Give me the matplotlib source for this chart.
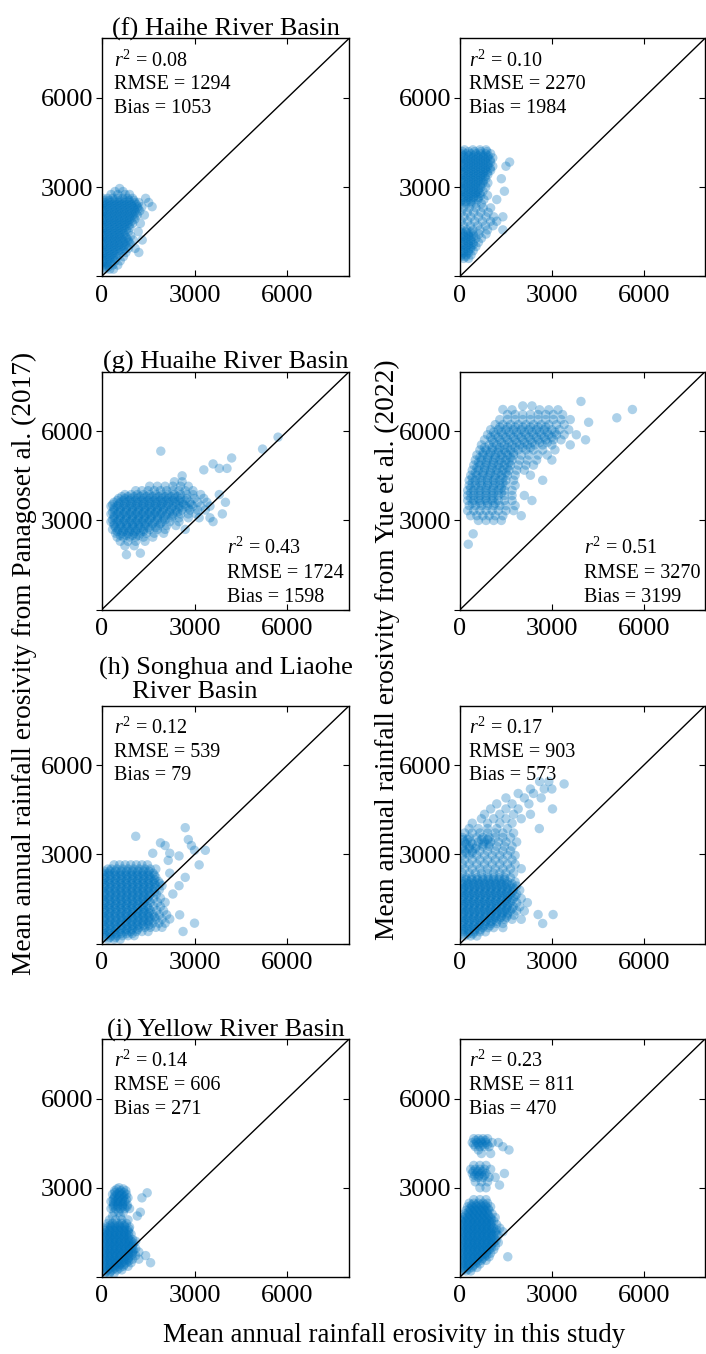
import matplotlib
matplotlib.use("Agg")
import matplotlib.pyplot as plt

plt.rcParams['font.family'] = ['Liberation Serif', 'DejaVu Serif']
plt.rcParams['mathtext.fontset'] = 'custom'
plt.rcParams['mathtext.rm'] = 'Liberation Serif'
plt.rcParams['mathtext.it'] = 'Liberation Serif:italic'

# ---------------- data: rows of (y, [x values]) ----------------
haihe_panagos = [
    (2950, [580]), (2850, [430, 690]), (2750, [300, 520, 760, 900]),
    (2620, [40, 200, 360, 520, 680, 840, 1000, 1420]),
    (2480, [110, 270, 430, 590, 750, 910, 1070, 1200, 1520]),
    (2340, [40, 200, 360, 520, 680, 840, 1000, 1160, 1300, 1630]),
    (2200, [110, 270, 430, 590, 750, 910, 1070, 1230]),
    (2060, [40, 200, 360, 520, 680, 840, 1000, 1150, 1380]),
    (1920, [110, 270, 430, 590, 750, 910, 1070]),
    (1780, [40, 200, 360, 520, 680, 840, 1000, 1250]),
    (1640, [110, 270, 430, 590, 750, 910]),
    (1500, [40, 200, 360, 520, 680, 860, 1180]),
    (1360, [110, 270, 430, 590, 760, 940]),
    (1220, [40, 200, 360, 520, 680, 850, 1020, 1310]),
    (1080, [110, 270, 430, 590, 760, 930]),
    (940, [40, 200, 360, 520, 690, 860, 1080]),
    (800, [110, 270, 430, 600, 780, 1200]),
    (660, [40, 200, 360, 520, 700]),
    (520, [110, 270, 430, 600]),
    (380, [40, 200, 360, 520]),
    (240, [110, 260, 380]),
]
haihe_panagos_core = [
    (2550, [80, 240, 400, 560, 720, 880, 1040]),
    (2410, [20, 160, 320, 480, 640, 800, 960, 1120]),
    (2270, [80, 240, 400, 560, 720, 880, 1040, 1180]),
    (2130, [20, 160, 320, 480, 640, 800, 960, 1100]),
    (1990, [80, 240, 400, 560, 720, 880, 1040]),
    (1850, [20, 160, 320, 480, 640, 800, 960]),
    (1710, [80, 240, 400, 560, 720, 880]),
    (1570, [20, 160, 320, 480, 640, 800]),
    (1430, [80, 240, 400, 560, 720]),
    (1290, [20, 160, 320, 480, 640, 800]),
    (1150, [80, 240, 400, 560, 720, 880]),
    (1010, [20, 160, 320, 480, 640, 800]),
    (870, [80, 240, 400, 560, 720]),
    (730, [20, 160, 320, 480]),
    (590, [80, 240, 400]),
    (450, [20, 160, 320]),
    (310, [80, 200]),
]
haihe_yue = [
    (4250, [150, 420, 650, 850]),
    (4120, [40, 200, 360, 520, 680, 840, 1000]),
    (3980, [110, 270, 430, 590, 750, 910, 1070]),
    (3840, [40, 200, 360, 520, 680, 840, 1000, 1620]),
    (3700, [110, 270, 430, 590, 750, 910, 1070, 1500]),
    (3560, [40, 200, 360, 520, 680, 840, 1000]),
    (3420, [110, 270, 430, 590, 750, 910]),
    (3280, [40, 200, 360, 520, 680, 840, 1350]),
    (3140, [110, 270, 430, 590, 750, 910]),
    (3000, [40, 200, 360, 520, 680, 840]),
    (2860, [110, 270, 430, 590, 750, 1450]),
    (2720, [40, 200, 360, 520, 680, 900]),
    (2580, [110, 270, 430, 590, 780, 1200]),
    (2440, [40, 200, 360, 520, 700]),
    (2300, [110, 300, 520, 760, 1000]),
    (2150, [40, 240, 450, 680, 920]),
    (2000, [130, 350, 600, 850, 1100, 1400]),
    (1850, [40, 250, 480, 730, 1000, 1200]),
    (1700, [120, 340, 580, 830, 1080]),
    (1560, [40, 220, 420, 650, 900, 1400]),
    (1420, [110, 270, 430, 620, 850]),
    (1280, [40, 200, 360, 520, 700]),
    (1140, [110, 270, 430, 600]),
    (1000, [40, 200, 360, 520]),
    (860, [110, 270, 430]),
    (720, [40, 200, 360]),
    (600, [120, 280]),
]
haihe_yue_core = [
    (4190, [80, 280, 480, 680, 880]),
    (4050, [120, 280, 440, 600, 760, 920]),
    (3910, [20, 190, 350, 510, 670, 830, 990]),
    (3770, [120, 280, 440, 600, 760, 920]),
    (3630, [20, 190, 350, 510, 670, 830, 990]),
    (3490, [120, 280, 440, 600, 760, 900]),
    (3350, [20, 190, 350, 510, 670, 820]),
    (3210, [120, 280, 440, 600, 760]),
    (3070, [20, 190, 350, 510, 670]),
    (2930, [120, 280, 440, 600]),
    (2790, [20, 190, 350, 510, 650]),
    (2650, [120, 280, 440, 600]),
    (2510, [20, 190, 350]),
    (1490, [20, 190, 350]),
    (1350, [120, 280, 440]),
    (1210, [20, 190, 350]),
    (1070, [120, 280, 440]),
    (930, [20, 190, 350]),
    (790, [120, 280]),
    (660, [20, 190]),
]
huaihe_panagos = [
    (5800, [5700]), (5400, [5200]), (5330, [1910]), (5100, [4200]),
    (4900, [3600]), (4750, [3800, 4050]), (4700, [3300]), (4500, [2600]),
    (4300, [2350, 2600]),
    (4150, [1550, 1800, 2050, 2300, 2550, 2800]),
    (4000, [1100, 1300, 1500, 1700, 1900, 2100, 2300, 2500, 2700, 2950]),
    (3870, [750, 950, 1150, 1350, 1550, 1750, 1950, 2150, 2350, 2550, 2750, 2950, 3200, 3800]),
    (3740, [550, 750, 950, 1150, 1350, 1550, 1750, 1950, 2150, 2350, 2550, 2750, 3000, 3300]),
    (3610, [400, 600, 800, 1000, 1200, 1400, 1600, 1800, 2000, 2200, 2400, 2600, 2850, 3100, 3400, 4000]),
    (3480, [300, 500, 700, 900, 1100, 1300, 1500, 1700, 1900, 2100, 2300, 2500, 2700, 2950, 3200, 3500]),
    (3350, [400, 600, 800, 1000, 1200, 1400, 1600, 1800, 2000, 2200, 2400, 2600, 2850, 3100, 3350]),
    (3220, [300, 500, 700, 900, 1100, 1300, 1500, 1700, 1900, 2100, 2300, 2550, 2800, 3050, 3900]),
    (3090, [400, 600, 800, 1000, 1200, 1400, 1600, 1800, 2000, 2250, 2500, 2800, 3150, 3500]),
    (2960, [300, 500, 700, 900, 1100, 1300, 1500, 1700, 1950, 2200, 2500, 3600]),
    (2830, [400, 600, 800, 1000, 1200, 1400, 1600, 1850, 2100, 2400]),
    (2700, [350, 550, 750, 950, 1150, 1350, 1550, 1800, 2050, 2700]),
    (2570, [450, 650, 850, 1050, 1250, 1450, 1700, 2000]),
    (2440, [500, 700, 900, 1100, 1350, 1650]),
    (2300, [600, 850, 1100, 1400]),
    (2150, [750, 1050]), (1900, [1250]), (1850, [800]),
]
huaihe_panagos_core = [
    (3800, [650, 850, 1050, 1250, 1450, 1650, 1850, 2050, 2250, 2450]),
    (3670, [500, 700, 900, 1100, 1300, 1500, 1700, 1900, 2100, 2300, 2500, 2700]),
    (3540, [350, 550, 750, 950, 1150, 1350, 1550, 1750, 1950, 2150, 2400, 2650, 2900]),
    (3410, [400, 600, 800, 1000, 1200, 1400, 1600, 1800, 2000, 2250, 2500, 2800]),
    (3280, [350, 550, 750, 950, 1150, 1350, 1550, 1750, 1950, 2200, 2450]),
    (3150, [400, 600, 800, 1000, 1200, 1400, 1600, 1800, 2050, 2300]),
    (3020, [350, 550, 750, 950, 1150, 1350, 1550, 1800, 2050]),
    (2890, [400, 600, 800, 1000, 1200, 1400, 1650, 1900]),
    (2760, [450, 650, 850, 1050, 1250, 1500, 1750]),
    (2630, [500, 700, 900, 1100, 1350]),
    (2500, [600, 800, 1000, 1200]),
]
huaihe_yue = [
    (7000, [3950]), (6850, [2050, 2350]), (6730, [1400, 5630]),
    (6720, [1700, 2600, 2900, 3200]), (6450, [5120]),
    (6560, [1550, 1800, 2050, 2300, 2550, 2800, 3050, 3350]),
    (6390, [1300, 1550, 1800, 2050, 2300, 2550, 2800, 3050, 3300, 3600]),
    (6300, [4200]),
    (6220, [1150, 1400, 1650, 1900, 2150, 2400, 2650, 2900, 3150, 3400]),
    (6050, [1000, 1250, 1500, 1750, 2000, 2250, 2500, 2750, 3000, 3250, 3550]),
    (5880, [900, 1150, 1400, 1650, 1900, 2150, 2400, 2650, 2900, 3150, 3400, 3800]),
    (5710, [800, 1050, 1300, 1550, 1800, 2050, 2300, 2550, 2800, 3050, 3300, 4100]),
    (5540, [700, 950, 1200, 1450, 1700, 1950, 2200, 2450, 2700, 3000, 3600]),
    (5370, [650, 850, 1050, 1250, 1450, 1650, 1900, 2150, 2400, 2700, 3100]),
    (5200, [550, 750, 950, 1150, 1350, 1550, 1750, 2000, 2250, 2550, 2850]),
    (5030, [500, 700, 900, 1100, 1300, 1500, 1700, 1950, 2200, 2500, 3000]),
    (4860, [450, 650, 850, 1050, 1250, 1450, 1650, 1900, 2150, 2400]),
    (4690, [400, 600, 800, 1000, 1200, 1400, 1600, 1850, 2100]),
    (4520, [350, 550, 750, 950, 1150, 1350, 1550, 1800, 2300]),
    (4350, [300, 500, 700, 900, 1100, 1300, 1500, 1750, 2700]),
    (4180, [300, 500, 700, 900, 1100, 1300, 1500, 1800]),
    (4010, [250, 450, 650, 850, 1050, 1250, 1450, 1700]),
    (3840, [250, 450, 650, 850, 1050, 1250, 1450, 1700, 2100]),
    (3670, [250, 450, 650, 850, 1050, 1250, 1450, 1700, 2350]),
    (3500, [300, 500, 700, 900, 1100, 1300, 1500, 1800]),
    (3330, [250, 450, 650, 850, 1050, 1250, 1500, 1750]),
    (3160, [350, 550, 750, 950, 1150, 1400, 2000]),
    (3000, [600, 850, 1100, 1350]),
    (2550, [430]), (2200, [270]),
]
huaihe_yue_core = [
    (6140, [1300, 1550, 1800, 2050, 2300, 2550, 2800]),
    (5970, [1100, 1350, 1600, 1850, 2100, 2350, 2600, 2850, 3100]),
    (5800, [1000, 1250, 1500, 1750, 2000, 2250, 2500, 2750, 3000]),
    (5620, [1100, 1350, 1600, 1850, 2100, 2350, 2600, 2850]),
    (5450, [800, 1050, 1300, 1550, 1800, 2050, 2300]),
    (5280, [750, 1000, 1250, 1500, 1750]),
    (5110, [650, 900, 1150, 1400, 1650]),
    (4940, [600, 850, 1100, 1350, 1600]),
    (4770, [550, 800, 1050, 1300, 1550]),
    (4600, [500, 750, 1000, 1250, 1500]),
    (4430, [400, 650, 900, 1150, 1400]),
    (4260, [400, 650, 900, 1150, 1400]),
    (4090, [350, 600, 850, 1100, 1350]),
    (3920, [350, 600, 850, 1100, 1350]),
    (3750, [350, 600, 850, 1100]),
    (3580, [400, 650, 900, 1150]),
]
songhua_panagos = [
    (3900, [2700]), (3610, [1100]), (3500, [2800]), (3390, [1900]),
    (3300, [2050, 2900]), (3140, [3000, 3350]), (3040, [2200, 1650]),
    (2950, [2500]), (2800, [2150]),
    (2650, [400, 580, 760, 940, 1120, 1300, 1480, 3150]),
    (2510, [200, 310, 490, 670, 850, 1030, 1210, 1390, 1570, 1750]),
    (2370, [40, 220, 400, 580, 760, 940, 1120, 1300, 1480, 1660, 2200]),
    (2230, [130, 310, 490, 670, 850, 1030, 1210, 1390, 1570, 1750, 2700]),
    (2090, [40, 220, 400, 580, 760, 940, 1120, 1300, 1480, 1660, 1840]),
    (1950, [130, 310, 490, 670, 850, 1030, 1210, 1390, 1570, 1750, 1950, 2500]),
    (1810, [40, 220, 400, 580, 760, 940, 1120, 1300, 1480, 1660, 1860]),
    (1670, [130, 310, 490, 670, 850, 1030, 1210, 1390, 1570, 1770, 2300]),
    (1530, [40, 220, 400, 580, 760, 940, 1120, 1300, 1480, 1680, 1900]),
    (1390, [130, 310, 490, 670, 850, 1030, 1210, 1390, 1570, 1800, 2050]),
    (1250, [40, 220, 400, 580, 760, 940, 1120, 1300, 1480, 1680, 1900]),
    (1110, [130, 310, 490, 670, 850, 1030, 1210, 1390, 1570, 1780, 2000]),
    (970, [40, 220, 400, 580, 760, 940, 1120, 1300, 1480, 1660, 1860, 2100, 2520]),
    (830, [130, 310, 490, 670, 850, 1030, 1210, 1390, 1570, 1750, 1950, 2200]),
    (690, [40, 220, 400, 580, 760, 940, 1120, 1300, 1480, 1660, 1850, 2050, 3000]),
    (550, [130, 310, 490, 670, 850, 1030, 1210, 1390, 1570, 1750, 1950]),
    (410, [40, 220, 400, 580, 760, 940, 1120, 1300, 1500, 2630]),
    (270, [130, 310, 490, 670, 850, 1050]),
    (150, [200, 400, 600]),
]
songhua_panagos_core = [
    (2440, [85, 265, 445, 625, 805, 985, 1165, 1345, 1525]),
    (2300, [85, 265, 445, 625, 805, 985, 1165, 1345, 1525, 1705]),
    (2160, [85, 265, 445, 625, 805, 985, 1165, 1345, 1525, 1705]),
    (2020, [85, 265, 445, 625, 805, 985, 1165, 1345, 1525, 1705, 1885]),
    (1880, [85, 265, 445, 625, 805, 985, 1165, 1345, 1525, 1705]),
    (1740, [85, 265, 445, 625, 805, 985, 1165, 1345, 1525, 1705]),
    (1600, [85, 265, 445, 625, 805, 985, 1165, 1345, 1525]),
    (1460, [85, 265, 445, 625, 805, 985, 1165, 1345, 1525]),
    (1320, [85, 265, 445, 625, 805, 985, 1165, 1345]),
    (1180, [85, 265, 445, 625, 805, 985, 1165, 1345, 1525]),
    (1040, [85, 265, 445, 625, 805, 985, 1165, 1345, 1525]),
    (900, [85, 265, 445, 625, 805, 985, 1165, 1345, 1525, 1705]),
    (760, [85, 265, 445, 625, 805, 985, 1165, 1345, 1525]),
    (620, [85, 265, 445, 625, 805, 985, 1165, 1345, 1525]),
    (480, [85, 265, 445, 625, 805, 985, 1165]),
    (340, [85, 265, 445, 625, 805, 985]),
    (210, [85, 265, 445]),
]
songhua_yue = [
    (5450, [2600, 2900]), (5370, [3400]), (5200, [2300, 2750, 3000]),
    (5050, [1900, 2400]), (4900, [1500, 2100, 2650]),
    (4700, [1200, 1700, 2250]), (4530, [1000, 1500, 1900, 3020]),
    (4350, [800, 1300, 1750, 2300]), (4200, [700, 1100, 1500, 2000]),
    (4050, [400, 900, 1300, 1700]),
    (3870, [300, 600, 900, 1200, 1550, 2590]),
    (3720, [150, 400, 650, 900, 1150, 1400, 1750]),
    (3570, [80, 300, 550, 750, 950, 1150, 1400, 1650]),
    (3420, [150, 350, 600, 800, 1000, 1250, 1500, 1850]),
    (3270, [80, 300, 550, 750, 950, 1200, 1450, 1700]),
    (3120, [150, 400, 650, 900, 1150, 1400, 1650]),
    (2970, [80, 300, 550, 800, 1050, 1300, 1550, 1800]),
    (2820, [150, 400, 650, 900, 1150, 1400, 1700]),
    (2670, [80, 300, 550, 800, 1050, 1300, 1550, 1800]),
    (2520, [150, 400, 650, 900, 1150, 1400, 1650, 2000]),
    (2370, [80, 300, 500, 700, 900, 1100, 1300, 1500, 1750]),
    (2220, [40, 200, 380, 560, 740, 920, 1100, 1280, 1460, 1650]),
    (2080, [120, 290, 470, 650, 830, 1010, 1190, 1370, 1550, 1800]),
    (1940, [40, 200, 380, 560, 740, 920, 1100, 1280, 1460, 1640, 1850]),
    (1800, [120, 290, 470, 650, 830, 1010, 1190, 1370, 1550, 1740, 1950]),
    (1660, [40, 200, 380, 560, 740, 920, 1100, 1280, 1460, 1640, 1850]),
    (1520, [120, 290, 470, 650, 830, 1010, 1190, 1370, 1550, 1740, 2000]),
    (1380, [40, 200, 380, 560, 740, 920, 1100, 1280, 1460, 1640, 1850, 2200]),
    (1240, [120, 290, 470, 650, 830, 1010, 1190, 1370, 1550, 1740, 1950]),
    (1100, [40, 200, 380, 560, 740, 920, 1100, 1280, 1460, 1640, 1850, 2100]),
    (980, [2550, 3040]),
    (960, [120, 290, 470, 650, 830, 1010, 1190, 1370, 1550, 1760]),
    (820, [40, 200, 380, 560, 740, 920, 1100, 1280, 1460, 1700, 2000]),
    (680, [120, 290, 470, 650, 830, 1010, 1190, 1400, 2700]),
    (540, [40, 200, 380, 560, 740, 920, 1100, 1400]),
    (400, [120, 290, 470, 650, 830]),
    (260, [150, 350, 550]),
]
songhua_yue_core = [
    (3500, [100, 250, 700, 900]), (3350, [200, 400, 750, 950]),
    (3200, [100, 300, 500]), (3050, [200, 400]),
    (2150, [200, 380, 560, 740, 920, 1100, 1280, 1460]),
    (2010, [80, 260, 440, 620, 800, 980, 1160, 1340, 1520, 1700]),
    (1870, [120, 300, 480, 660, 840, 1020, 1200, 1380, 1560, 1750]),
    (1730, [80, 260, 440, 620, 800, 980, 1160, 1340, 1520, 1700]),
    (1590, [120, 300, 480, 660, 840, 1020, 1200, 1380, 1560, 1800]),
    (1450, [80, 260, 440, 620, 800, 980, 1160, 1340, 1520, 1700]),
    (1310, [120, 300, 480, 660, 840, 1020, 1200, 1380, 1560]),
    (1170, [80, 260, 440, 620, 800, 980, 1160, 1340, 1520, 1700]),
    (1030, [120, 300, 480, 660, 840, 1020, 1200, 1380, 1560]),
    (890, [80, 260, 440, 620, 800, 980, 1160, 1340, 1520]),
    (750, [120, 300, 480, 660, 840, 1020, 1200]),
    (610, [80, 260, 440, 620, 800, 980]),
    (470, [120, 300, 480, 660]),
    (330, [80, 260, 420]),
]
yellow_panagos = [
    (3000, [560]), (2900, [420, 620, 780]), (2830, [1470]),
    (2780, [350, 500, 650, 800]), (2660, [400, 550, 700, 850, 1300]),
    (2540, [300, 450, 600, 750]), (2420, [380, 530, 680, 830]),
    (2300, [300, 450, 600, 750, 900]), (2180, [400, 550, 700, 1250]),
    (2050, [350, 600, 1150]), (1920, [250, 450, 650, 850]),
    (1800, [200, 350, 500, 650, 800]),
    (1680, [150, 300, 450, 600, 750, 900]),
    (1560, [100, 250, 400, 550, 700, 850]),
    (1440, [50, 200, 350, 500, 650, 800, 950]),
    (1320, [100, 250, 400, 550, 700, 850]),
    (1200, [50, 200, 350, 500, 650, 800, 950, 1100]),
    (1080, [100, 250, 400, 550, 700, 850, 1000]),
    (960, [50, 200, 350, 500, 650, 800, 950, 1100]),
    (840, [100, 250, 400, 550, 700, 850, 1000, 1200]),
    (720, [50, 200, 350, 500, 650, 800, 950, 1100, 1420]),
    (600, [100, 250, 400, 550, 700, 850, 1000, 1200]),
    (480, [50, 200, 350, 500, 650, 800, 950, 1580]),
    (360, [100, 250, 400, 550, 700, 850]),
    (240, [50, 200, 350, 500, 650]),
    (120, [100, 250, 400]),
]
yellow_panagos_core = [
    (2960, [490, 700]), (2840, [430, 570, 720]), (2720, [420, 570, 720]),
    (2600, [370, 520, 670, 800]), (2480, [380, 530, 680]),
    (2360, [370, 520, 670, 820]),
    (1740, [280, 430, 580, 730]),
    (1620, [130, 280, 430, 580, 730, 880]),
    (1500, [125, 275, 425, 575, 725, 875]),
    (1380, [130, 280, 430, 580, 730, 880]),
    (1260, [125, 275, 425, 575, 725, 875, 1000]),
    (1140, [130, 280, 430, 580, 730, 880, 1030]),
    (1020, [125, 275, 425, 575, 725, 875, 1000]),
    (900, [130, 280, 430, 580, 730, 880, 1030]),
    (780, [125, 275, 425, 575, 725, 875, 1000]),
    (660, [130, 280, 430, 580, 730, 880]),
    (540, [125, 275, 425, 575, 725, 875]),
    (420, [130, 280, 430, 580, 730]),
    (300, [125, 275, 425, 575]),
    (180, [130, 280]),
]
yellow_yue = [
    (4650, [450, 600, 750, 900]),
    (4520, [400, 550, 700, 850, 1050, 1250]),
    (4380, [500, 650, 800, 950, 1400]),
    (4270, [600, 1600]), (4150, [700, 1000]),
    (3750, [450, 650, 850]),
    (3620, [350, 500, 650, 800, 1000]),
    (3480, [400, 550, 700, 850, 1450]),
    (3350, [450, 600, 750, 950, 1150]),
    (3200, [500, 700, 900]), (3090, [1290]), (3000, [650, 850]),
    (2600, [450, 650, 850]),
    (2480, [300, 450, 600, 750, 900]),
    (2360, [250, 400, 550, 700, 850, 1000]),
    (2240, [200, 350, 500, 650, 800, 950]),
    (2120, [150, 300, 450, 600, 750, 900, 1050]),
    (2000, [100, 250, 400, 550, 700, 850, 1000, 1150]),
    (1880, [50, 200, 350, 500, 650, 800, 950, 1100]),
    (1760, [100, 250, 400, 550, 700, 850, 1000, 1200]),
    (1640, [50, 200, 350, 500, 650, 800, 950, 1100, 1300]),
    (1520, [100, 250, 400, 550, 700, 850, 1000, 1150, 1400]),
    (1400, [50, 200, 350, 500, 650, 800, 950, 1100, 1250]),
    (1280, [100, 250, 400, 550, 700, 850, 1000, 1150]),
    (1160, [50, 200, 350, 500, 650, 800, 950, 1100, 1250]),
    (1040, [100, 250, 400, 550, 700, 850, 1000, 1150]),
    (920, [50, 200, 350, 500, 650, 800, 950, 1100]),
    (800, [100, 250, 400, 550, 700, 850, 1000]),
    (680, [50, 200, 350, 500, 650, 800, 950, 1560]),
    (560, [100, 250, 400, 550, 700, 850]),
    (440, [50, 200, 350, 500, 650]),
    (320, [100, 250, 400, 550]),
    (200, [50, 200, 350]),
]
yellow_yue_core = [
    (4590, [520, 680, 830]), (4450, [450, 600, 750, 900]),
    (3550, [430, 580, 730]), (3420, [480, 630, 800]),
    (2420, [380, 530, 680, 830]),
    (2300, [320, 470, 620, 770, 920]),
    (2180, [280, 430, 580, 730, 880]),
    (2060, [180, 330, 480, 630, 780, 930]),
    (1940, [125, 275, 425, 575, 725, 875, 1025]),
    (1820, [130, 280, 430, 580, 730, 880, 1030]),
    (1700, [125, 275, 425, 575, 725, 875, 1025]),
    (1580, [130, 280, 430, 580, 730, 880, 1030, 1200]),
    (1460, [125, 275, 425, 575, 725, 875, 1025, 1180]),
    (1340, [130, 280, 430, 580, 730, 880, 1030]),
    (1220, [125, 275, 425, 575, 725, 875, 1025, 1180]),
    (1100, [130, 280, 430, 580, 730, 880, 1030]),
    (980, [125, 275, 425, 575, 725, 875, 1025]),
    (860, [130, 280, 430, 580, 730, 880]),
    (740, [125, 275, 425, 575, 725, 875]),
    (620, [130, 280, 430, 580, 730]),
    (500, [125, 275, 425, 575]),
    (380, [130, 280, 430]),
    (260, [125, 275]),
]

titles = ["(f) Haihe River Basin", "(g) Huaihe River Basin",
          "(h) Songhua and Liaohe\n     River Basin", "(i) Yellow River Basin"]
r2_vals = [["0.08", "0.10"], ["0.43", "0.51"], ["0.12", "0.17"], ["0.14", "0.23"]]
rmse_vals = [["1294", "2270"], ["1724", "3270"], ["539", "903"], ["606", "811"]]
bias_vals = [["1053", "1984"], ["1598", "3199"], ["79", "573"], ["271", "470"]]
panel_data = [
    [haihe_panagos + haihe_panagos_core, haihe_yue + haihe_yue_core],
    [huaihe_panagos + huaihe_panagos_core, huaihe_yue + huaihe_yue_core],
    [songhua_panagos + songhua_panagos_core, songhua_yue + songhua_yue_core],
    [yellow_panagos + yellow_panagos_core, yellow_yue + yellow_yue_core],
]
ticks = [0, 3000, 6000]
ylabel_left = "Mean annual rainfall erosivity from Panagoset al. (2017)"
ylabel_right = "Mean annual rainfall erosivity from Yue et al. (2022)"
xlabel = "Mean annual rainfall erosivity in this study"

# ---------------- layout ----------------
W, H = 706, 1354
fig = plt.figure(figsize=(W / 100, H / 100), dpi=100)
col_left = [101.7, 460.0]
col_width = [247.5, 245.0]
row_top = [38.3, 371.7, 705.7, 1039.0]
ax_h = 238.0
LIM = 8000
BLUE = '#0072BD'

for r in range(4):
    for c in range(2):
        x0 = col_left[c] / W
        y0 = (H - row_top[r] - ax_h) / H
        ax = fig.add_axes([x0, y0, col_width[c] / W, ax_h / H])
        xs, ys = [], []
        for yv, xl in panel_data[r][c]:
            for xv in xl:
                xs.append(xv)
                ys.append(yv)
        ax.scatter(xs, ys, s=46, color=BLUE, alpha=0.32, edgecolors='none', zorder=2)
        ax.plot([0, LIM], [0, LIM], color='black', lw=1.0, zorder=3)
        ax.set_xlim(0, LIM)
        ax.set_ylim(0, LIM)
        ax.set_xticks(ticks)
        ax.set_yticks(ticks)
        ax.set_yticklabels(["", "3000", "6000"])
        ax.tick_params(axis='both', labelsize=19, length=4, width=0.8,
                       top=True, right=True, direction='in', pad=6)
        for t in ax.yaxis.get_major_ticks():
            t.tick1line.set_marker(matplotlib.lines.TICKLEFT)
        for sp in ax.spines.values():
            sp.set_linewidth(1.0)
        if r == 1:
            tx, ty = 0.505, [0.258, 0.153, 0.052]
        else:
            tx, ty = (0.05 if c == 0 else 0.037), [0.905, 0.805, 0.705]
        ax.text(tx, ty[0], r'$r^2$ = ' + r2_vals[r][c], transform=ax.transAxes,
                fontsize=14.5, va='center', ha='left', zorder=4)
        ax.text(tx, ty[1], 'RMSE = ' + rmse_vals[r][c], transform=ax.transAxes,
                fontsize=14.5, va='center', ha='left', zorder=4)
        ax.text(tx, ty[2], 'Bias = ' + bias_vals[r][c], transform=ax.transAxes,
                fontsize=14.5, va='center', ha='left', zorder=4)
        if c == 0:
            if r == 2:
                ax.text(-0.01, 1.012, titles[r], transform=ax.transAxes, fontsize=19,
                        ha='left', va='bottom', linespacing=1.05)
            else:
                ax.set_title(titles[r], fontsize=19, pad=2)

fig.text(24 / W, 1 - 663 / H, ylabel_left, rotation=90, fontsize=19.7,
         ha='center', va='center')
fig.text(387 / W, 1 - 650 / H, ylabel_right, rotation=90, fontsize=19.7,
         ha='center', va='center')
fig.text(394 / W, 1 - 1336 / H, xlabel, fontsize=19.4, ha='center', va='center')

fig.savefig('out.png', dpi=100)
